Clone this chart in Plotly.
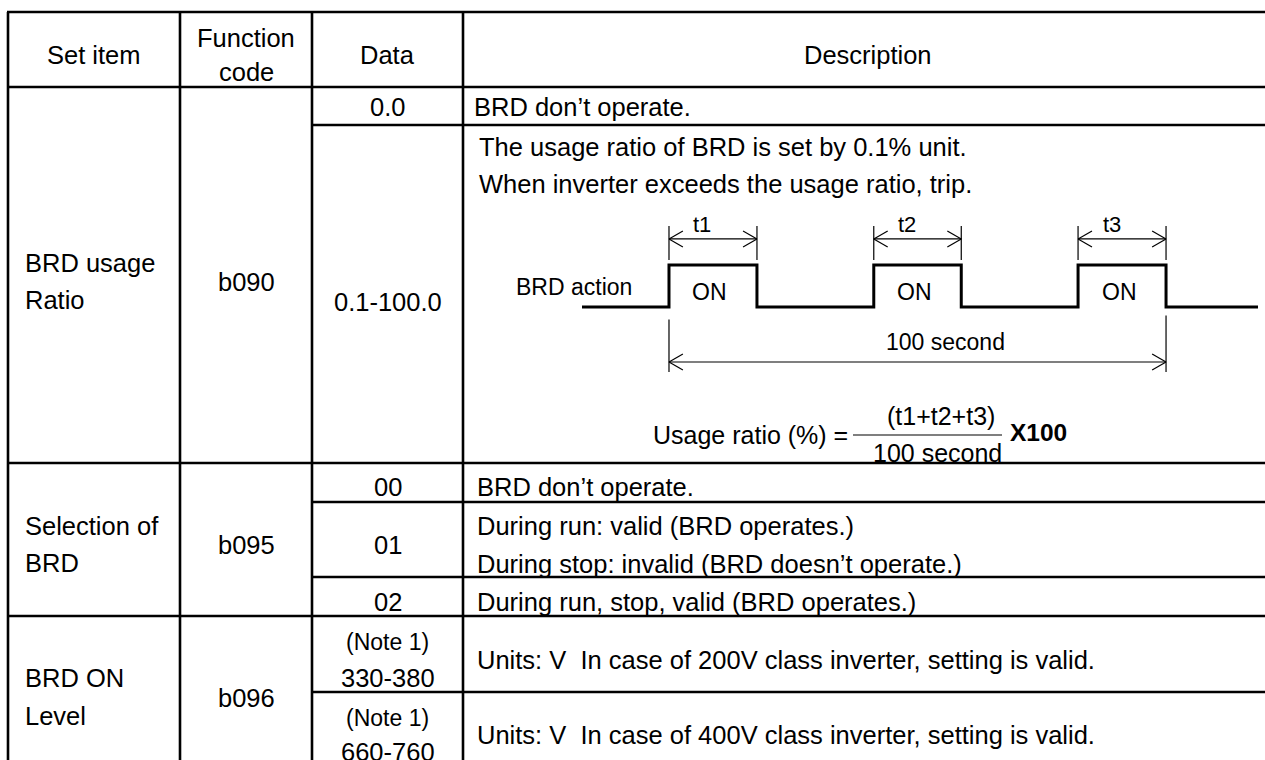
import plotly.graph_objects as go

# ---------------- data ----------------
header_labels = ["Set item", "Function", "code", "Data", "Description"]
set_items = [["BRD usage", "Ratio"], ["Selection of", "BRD"], ["BRD ON", "Level"]]
function_codes = ["b090", "b095", "b096"]
data_values = ["0.0", "0.1-100.0", "00", "01", "02", "330-380", "660-760"]
note_labels = ["(Note 1)", "(Note 1)"]
descriptions = [
    "BRD don\u2019t operate.",
    "The usage ratio of BRD is set by 0.1% unit.",
    "When inverter exceeds the usage ratio, trip.",
    "BRD don\u2019t operate.",
    "During run: valid (BRD operates.)",
    "During stop: invalid (BRD doesn\u2019t operate.)",
    "During run, stop, valid (BRD operates.)",
    "Units: V  In case of 200V class inverter, setting is valid.",
    "Units: V  In case of 400V class inverter, setting is valid.",
]

# BRD action timing (seconds inside the 100 second window)
on_start = [0.0, 41.2, 82.3]
on_end = [17.7, 58.8, 100.0]
pulse_labels = ["t1", "t2", "t3"]
trace_span = [-17.5, 118.5]
window = [0.0, 100.0]
window_label = "100 second"
formula_left = "Usage ratio (%) ="
formula_num = "(t1+t2+t3)"
formula_den = "100 second"
formula_mult = "X100"

# ---------------- layout constants ----------------
W, H = 1265, 760
FONT = "Liberation Sans, Arial, sans-serif"
TS = 25.5   # table font size
NS = 23     # note font size
DS = 23     # diagram font size
FS = 25     # formula font size
LW = 2.6    # table line width
XL, X1, X2, X3, XR = 8, 180, 312, 463, 1265

fig = go.Figure()

# ---- table grid ----
shapes = []
def hline(y, x0, x1=XR + 2, w=LW):
    shapes.append(dict(type="line", xref="x", yref="y", x0=x0, x1=x1, y0=y, y1=y,
                       line=dict(color="black", width=w)))
def vline(x, y0, y1, w=LW):
    shapes.append(dict(type="line", xref="x", yref="y", x0=x, x1=x, y0=y0, y1=y1,
                       line=dict(color="black", width=w)))

for y in [12, 87, 463, 616]:
    hline(y, XL - 1)
for y in [125, 502, 577, 692]:
    hline(y, X2)
for x in [XL, X1, X2, X3]:
    vline(x, 12, H + 5)

annotations = []
def txt(x, y, s, size=TS, anchor="center", bold=False, xref="x", yref="y"):
    if bold:
        s = "<b>" + s + "</b>"
    annotations.append(dict(x=x, y=y, xref=xref, yref=yref, text=s, showarrow=False,
                            xanchor=anchor, yanchor="middle",
                            font=dict(family=FONT, size=size, color="black")))

# header
txt((XL + X1) / 2, 55, header_labels[0])
txt((X1 + X2) / 2, 38, header_labels[1])
txt((X1 + X2) / 2, 72, header_labels[2])
txt((X2 + X3) / 2, 55, header_labels[3])
txt((X3 + XR) / 2 + 4, 55, header_labels[4])

# set item column (two lines each)
set_y = [(263, 300), (526, 563), (678, 716)]
for lines, (ya, yb) in zip(set_items, set_y):
    txt(23, ya, lines[0], anchor="left")
    txt(23, yb, lines[1], anchor="left")

# function code column
for code, y in zip(function_codes, [282, 545, 698]):
    txt((X1 + X2) / 2, y, code)

# data column
cx = (X2 + X3) / 2
for val, y in zip(data_values, [107, 302, 487, 545, 602, 678, 752]):
    txt(cx, y, val)
for note, y in zip(note_labels, [642, 718]):
    txt(cx, y, note, size=NS)

# description column
desc_pos = [(472, 107), (477, 147), (477, 184), (475, 487), (475, 526),
            (475, 564), (475, 602), (475, 660), (475, 735)]
for s, (x, y) in zip(descriptions, desc_pos):
    txt(x, y, s, anchor="left")

# ---- BRD action diagram (own axes: seconds vs. signal level) ----
sx, sy = [trace_span[0]], [0]
for s, e in zip(on_start, on_end):
    sx += [s, s, e, e]
    sy += [0, 1, 1, 0]
sx.append(trace_span[1]); sy.append(0)
fig.add_trace(go.Scatter(x=sx, y=sy, mode="lines", xaxis="x2", yaxis="y2",
                         line=dict(color="black", width=3), hoverinfo="skip"))

HL, HS = 2.8, 0.19   # arrow head length (s) and half spread (level)
ax, ay = [], []
def seg(x0, y0, x1, y1):
    ax.extend([x0, x1, None]); ay.extend([y0, y1, None])
def dim_arrow(a, b, lvl):
    seg(a, lvl, b, lvl)
    seg(a, lvl, a + HL, lvl + HS); seg(a, lvl, a + HL, lvl - HS)
    seg(b, lvl, b - HL, lvl + HS); seg(b, lvl, b - HL, lvl - HS)

for s, e, lab in zip(on_start, on_end, pulse_labels):
    dim_arrow(s, e, 1.62)
    seg(s, 1.12, s, 1.93); seg(e, 1.12, e, 1.93)
    txt(s + 0.38 * (e - s), 1.97, lab, size=22, xref="x2", yref="y2")
    txt((s + e) / 2 - 0.6, 0.36, "ON", size=DS, xref="x2", yref="y2")

dim_arrow(window[0], window[1], -1.31)
seg(window[0], -0.3, window[0], -1.55)
seg(window[1], -0.2, window[1], -1.55)
fig.add_trace(go.Scatter(x=ax, y=ay, mode="lines", xaxis="x2", yaxis="y2",
                         line=dict(color="black", width=1.2), hoverinfo="skip"))

txt(-7.0, 0.48, "BRD action", size=DS, anchor="right", xref="x2", yref="y2")
txt(55.7, -0.83, window_label, size=DS, xref="x2", yref="y2")

# ---- formula ----
txt(850, 435, formula_left, size=FS, anchor="right")
shapes.append(dict(type="line", xref="x", yref="y", x0=853, x1=1002, y0=435, y1=435,
                   line=dict(color="black", width=1.2)))
txt(941, 416, formula_num, size=FS)
txt(937, 453, formula_den, size=FS)
txt(1008, 432, formula_mult, size=24.5, anchor="left", bold=True)

# ---------------- figure layout ----------------
px_per_level = 42
lvl_range = [-2, 3]
top_px = 307 - lvl_range[1] * px_per_level
bot_px = 307 - lvl_range[0] * px_per_level

fig.update_layout(
    width=W, height=H,
    margin=dict(l=0, r=0, t=0, b=0),
    paper_bgcolor="white", plot_bgcolor="white",
    showlegend=False,
    xaxis=dict(range=[0, W], domain=[0, 1], visible=False, fixedrange=True),
    yaxis=dict(range=[H, 0], domain=[0, 1], visible=False, fixedrange=True),
    xaxis2=dict(range=trace_span, domain=[582 / W, 1258 / W], visible=False,
                anchor="y2", fixedrange=True),
    yaxis2=dict(range=lvl_range, domain=[1 - bot_px / H, 1 - top_px / H],
                visible=False, anchor="x2", fixedrange=True),
    shapes=shapes,
    annotations=annotations,
)

fig.write_html("out.html", config={"displayModeBar": False},
               post_script="document.body.style.margin='0';"
                           "document.body.style.overflow='hidden';")
